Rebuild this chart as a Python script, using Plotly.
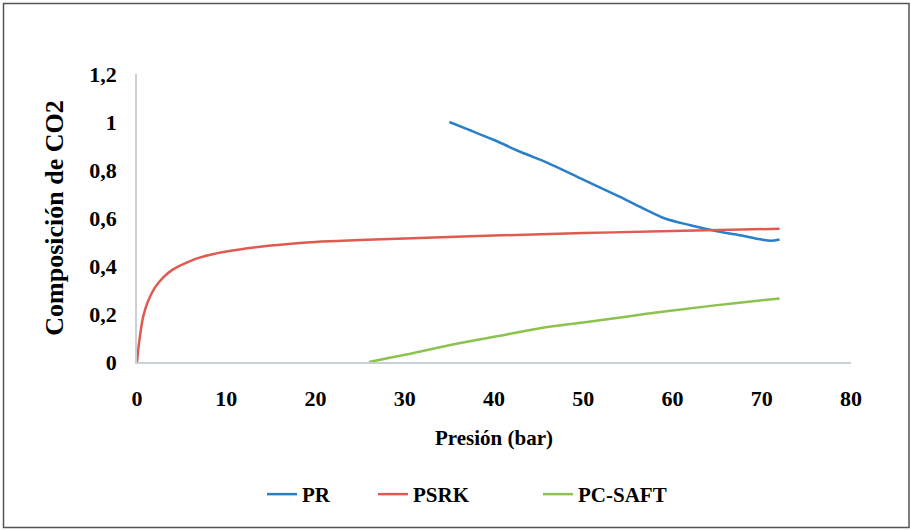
import plotly.graph_objects as go

pr_x = [35, 37, 40, 43, 46, 50, 54, 57, 59, 62, 65, 68, 70, 71, 72]
pr_y = [1.0, 0.97, 0.925, 0.875, 0.83, 0.76, 0.69, 0.635, 0.6, 0.57, 0.545, 0.525, 0.51, 0.505, 0.51]

psrk_x = [0, 0.3, 0.7, 1.2, 2, 3, 4, 5, 7, 10, 15, 20, 25, 30, 40, 50, 60, 72]
psrk_y = [0, 0.1, 0.19, 0.25, 0.31, 0.355, 0.385, 0.405, 0.435, 0.46, 0.485, 0.5, 0.508, 0.515, 0.527, 0.537, 0.546, 0.555]

saft_x = [26, 30, 35, 40, 45, 50, 55, 60, 65, 70, 72]
saft_y = [0, 0.03, 0.07, 0.105, 0.14, 0.165, 0.19, 0.215, 0.237, 0.257, 0.265]

x_ticks = [0, 10, 20, 30, 40, 50, 60, 70, 80]
y_ticks = [0, 0.2, 0.4, 0.6, 0.8, 1.0, 1.2]

font_family = "Liberation Serif"

fig = go.Figure()
fig.add_trace(go.Scatter(x=pr_x, y=pr_y, mode="lines", name="PR", legend="legend",
                         line=dict(color="#2a7fc9", width=2.5, shape="spline")))
fig.add_trace(go.Scatter(x=psrk_x, y=psrk_y, mode="lines", name="PSRK", legend="legend2",
                         line=dict(color="#e05a50", width=2.5, shape="spline")))
fig.add_trace(go.Scatter(x=saft_x, y=saft_y, mode="lines", name="PC-SAFT", legend="legend3",
                         line=dict(color="#8dc24f", width=2.5, shape="spline")))

legend_font = dict(family=font_family, size=21, color="black", weight="bold")


def leg(px):
    return dict(orientation="h", x=(px - 137) / 714, xanchor="left", y=-0.46, yanchor="middle",
                font=legend_font, itemwidth=30, bgcolor="rgba(0,0,0,0)")


tick_font = dict(family=font_family, size=22, color="black", weight="bold")

fig.update_layout(
    width=911, height=530,
    margin=dict(l=137, r=60, t=74, b=168),
    plot_bgcolor="white", paper_bgcolor="white",
    separators=",.",
    font=dict(family=font_family, color="black"),
    showlegend=True,
    legend=leg(262),
    legend2=leg(373),
    legend3=leg(538),
    xaxis=dict(range=[0, 80], tickvals=x_ticks, showgrid=False, zeroline=False,
               showline=True, linecolor="#c8d0d8", linewidth=1.5,
               ticks="", ticklabelstandoff=16, automargin=False,
               tickfont=tick_font,
               title=dict(text="Presión (bar)", standoff=20,
                          font=dict(family=font_family, size=21, color="black", weight="bold"))),
    yaxis=dict(range=[0, 1.2], tickvals=y_ticks, showgrid=False, zeroline=False,
               showline=True, linecolor="#c8d0d8", linewidth=1.5,
               ticks="", ticklabelstandoff=14, automargin=False,
               tickfont=tick_font,
               title=dict(text="Composición de CO2", standoff=18,
                          font=dict(family=font_family, size=26, color="black", weight="bold"))),
)

fig.add_shape(type="rect", xref="paper", yref="paper",
              x0=(3.5 - 137) / 714, x1=(909 - 137) / 714,
              y0=(362 - 527.5) / 288, y1=(362 - 3.5) / 288,
              line=dict(color="#555555", width=1.5), layer="below")

fig.write_html("out.html", config={"displayModeBar": False},
               post_script="document.body.style.margin='0';")
